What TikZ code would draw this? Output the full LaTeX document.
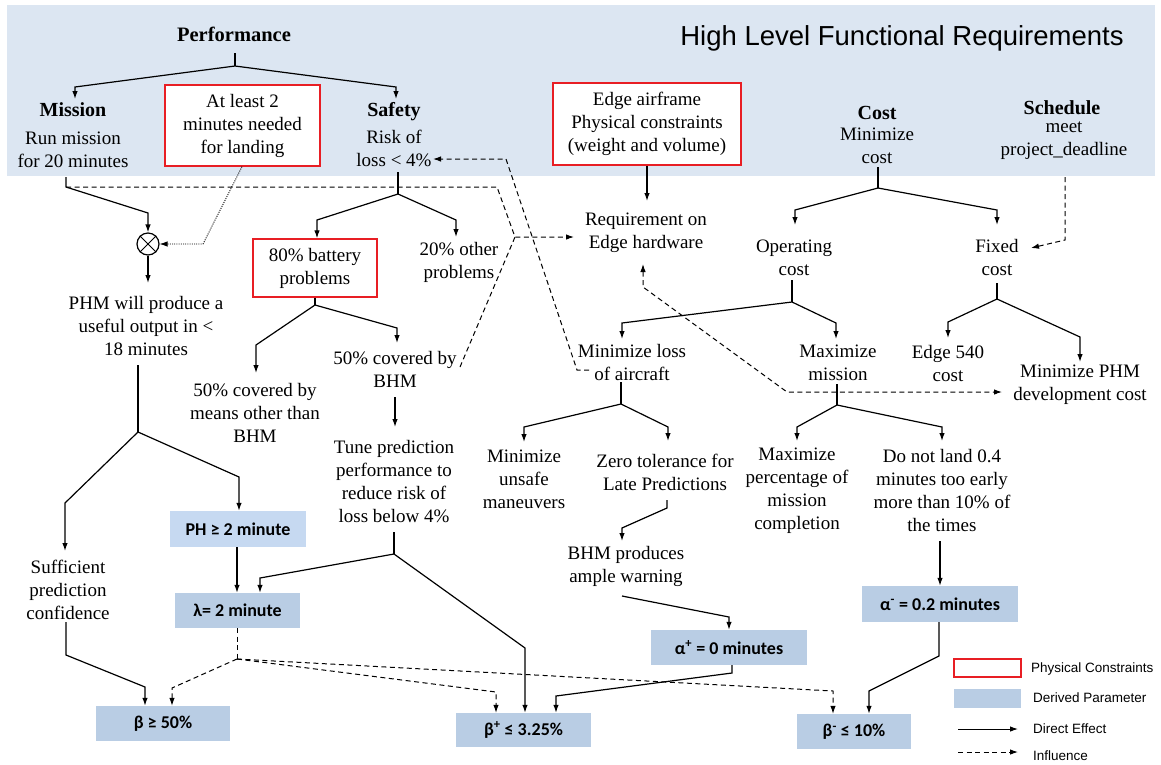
\documentclass[tikz,border=0pt]{standalone}
\usepackage{fontspec}
\setmainfont{Liberation Serif}
\newfontfamily\serf{Liberation Serif}
\newfontfamily\sansf{Liberation Sans}
\newfontfamily\calib{Carlito}
\usetikzlibrary{arrows.meta}
\definecolor{band}{RGB}{220,230,242}
\definecolor{dp}{RGB}{185,205,228}
\definecolor{dplight}{RGB}{198,217,241}
\definecolor{pcred}{RGB}{232,30,36}
\tikzset{
  tx/.style={align=center, inner sep=0pt, font=\serf\fontsize{19}{23}\selectfont},
  hd/.style={inner sep=0pt, font=\serf\bfseries\fontsize{20}{23}\selectfont},
  pcbox/.style={draw=pcred, line width=1.3pt, fill=white, inner sep=0pt, align=center, font=\serf\fontsize{19}{23}\selectfont},
  dpbox/.style={fill=dp, inner sep=0pt, font=\calib\bfseries\fontsize{18}{21}\selectfont},
  legtx/.style={inner sep=0pt, anchor=west, font=\sansf\fontsize{13.5}{16}\selectfont},
  conn/.style={line width=1.2pt},
  arr/.style={line width=1.2pt, -{Latex[length=8pt,width=5.5pt]}},
  inflline/.style={line width=1pt, dash pattern=on 5pt off 3.5pt},
  infl/.style={inflline, -{Latex[length=8pt,width=5.5pt]}},
  inflboth/.style={inflline, {Latex[length=8pt,width=5.5pt]}-{Latex[length=8pt,width=5.5pt]}},
  dotln/.style={line width=0.9pt, dash pattern=on 1pt off 1.2pt, -{Latex[length=8pt,width=5.5pt]}}
}
\begin{document}
\begin{tikzpicture}[x=1pt,y=-1pt]
\useasboundingbox (0,0) rectangle (1161,764);
\fill[white] (0,0) rectangle (1161,764);
\fill[band] (7,5) rectangle (1155,176);

% ---------- top band texts
\node[inner sep=0pt, font=\sansf\fontsize{27.5}{31}\selectfont] (title) at (902,38) {High Level Functional Requirements};
\node[inner sep=0pt, font=\serf\bfseries\fontsize{20.5}{23}\selectfont] (perf) at (234,34) {Performance};
\node[hd] (mish) at (73,110) {Mission};
\node[tx] (mis) at (73,149.5) {Run mission\\for 20 minutes};
\node[pcbox, minimum width=155pt, minimum height=81pt] (atl) at (242.5,125.5) {At least 2\\minutes needed\\for landing};
\node[hd] (safh) at (394,112) {Safety};
\node[tx] (saf) at (394,148.5) {Risk of\\loss < 4\%};
\node[pcbox, minimum width=188pt, minimum height=82pt] (edge) at (647,124) {Edge airframe\\Physical constraints\\(weight and volume)};
\node[hd] (costh) at (877,113) {Cost};
\node[tx] (cost) at (877,146) {Minimize\\cost};
\node[hd] (schedh) at (1062,108) {Schedule};
\node[tx] (sched) at (1064,141) {meet\\project\_deadline};

% ---------- middle texts
\node[tx] (req) at (646,233) {Requirement on\\Edge hardware};
\node[tx] (opc) at (794,257.5) {Operating\\cost};
\node[tx] (fix) at (997,257) {Fixed\\cost};
\node[pcbox, minimum width=124pt, minimum height=58pt] (bat) at (315,268) {80\% battery\\problems};
\node[tx] (oth) at (459,262.5) {20\% other\\problems};
\node[circle, draw, line width=1.2pt, minimum size=22pt, inner sep=0pt] (mult) at (148,244) {};
\node[tx] (phm) at (146,326) {PHM will produce a\\useful output in <\\18 minutes};
\node[tx] (cov1) at (255,413) {50\% covered by\\means other than\\BHM};
\node[tx] (cov2) at (395,369) {50\% covered by\\BHM};
\node[tx] (tune) at (394,482) {Tune prediction\\performance to\\reduce risk of\\loss below 4\%};
\node[tx] (mloss) at (632,362) {Minimize loss\\of aircraft};
\node[tx] (maxm) at (838,362.5) {Maximize\\mission};
\node[tx] (e540) at (948,363.5) {Edge 540\\cost};
\node[tx] (mphm) at (1080,384.5) {Minimize PHM\\development cost};
\node[tx] (unsafe) at (524,479.5) {Minimize\\unsafe\\maneuvers};
\node[tx] (zero) at (665,472.5) {Zero tolerance for\\Late Predictions};
\node[tx] (pct) at (797,491) {Maximize\\percentage of\\mission\\completion};
\node[tx] (land) at (942,490) {Do not land 0.4\\minutes too early\\more than 10\% of\\the times};
\node[tx] (bhm) at (626,566) {BHM produces\\ample warning};
\node[tx] (suf) at (68,589.5) {Sufficient\\prediction\\confidence};

% ---------- derived parameter boxes
\node[dpbox, fill=dplight, minimum width=136pt, minimum height=36pt] (ph) at (238,529) {PH ≥ 2 minute};
\node[dpbox, minimum width=125pt, minimum height=35pt] (lam) at (237.5,610.5) {λ= 2 minute};
\node[dpbox, minimum width=134pt, minimum height=35pt] (bge) at (163,723.5) {β ≥ 50\%};
\node[dpbox, minimum width=135pt, minimum height=34pt] (bplus) at (523.5,730) {β\textsuperscript{+} ≤ 3.25\%};
\node[dpbox, minimum width=156pt, minimum height=35pt] (aplus) at (729,647.5) {α\textsuperscript{+} = 0 minutes};
\node[dpbox, minimum width=156pt, minimum height=36pt] (aminus) at (940,604) {α\textsuperscript{-} = 0.2 minutes};
\node[dpbox, minimum width=114pt, minimum height=35pt] (bminus) at (854,731.5) {β\textsuperscript{-} ≤ 10\%};

% ---------- junction coordinates
\coordinate (perf-st) at (235,53);
\coordinate (perf-j) at (235,66);
\coordinate (mish-in) at (75,99);
\coordinate (safh-in) at (396,99);
\coordinate (mis-st) at (66,177);
\coordinate (mis-j) at (66,187);
\coordinate (reqj) at (515,237);
\coordinate (req-in) at (574,237);
\coordinate (req-top) at (647,201);
\coordinate (req-bot) at (643,264);
\coordinate (mphm-side) at (1002,392);
\coordinate (saf-side) at (433,159);
\coordinate (mloss-side) at (589,370);
\coordinate (cov2-side) at (460,367);
\coordinate (cost-st) at (878,167);
\coordinate (cost-j) at (878,188);
\coordinate (opc-in) at (795,225);
\coordinate (fix-in) at (997,225);
\coordinate (sched-st) at (1065,177);
\coordinate (fix-side) at (1031,248);
\coordinate (saf-st) at (398,172);
\coordinate (saf-j) at (398,194);
\coordinate (oth-in) at (456,237);
\coordinate (bat-j) at (315,305);
\coordinate (cov1-in) at (256,373);
\coordinate (cov2-in) at (397,343);
\coordinate (cov2-st) at (395,397);
\coordinate (tune-in) at (395,427);
\coordinate (tune-st) at (394,532);
\coordinate (tune-j) at (394,554);
\coordinate (phm-in) at (148,283);
\coordinate (phm-st) at (138,365);
\coordinate (phm-j) at (138,432);
\coordinate (suf-in) at (65,551);
\coordinate (suf-st) at (66,622);
\coordinate (opc-st) at (792,280);
\coordinate (opc-j) at (792,302);
\coordinate (mloss-in) at (622,339);
\coordinate (maxm-in) at (836,339);
\coordinate (fix-st) at (997,283);
\coordinate (fix-j) at (997,299);
\coordinate (e540-in) at (948,338);
\coordinate (mphm-in) at (1080,362);
\coordinate (mloss-st) at (621,382);
\coordinate (mloss-j) at (621,404);
\coordinate (unsafe-in) at (524,442);
\coordinate (zero-in) at (668,441);
\coordinate (maxm-st) at (837,384);
\coordinate (maxm-j) at (837,405);
\coordinate (pct-in) at (797,441);
\coordinate (land-in) at (942,441);
\coordinate (zero-st) at (667,500);
\coordinate (bhm-in) at (622,541);
\coordinate (bhm-st) at (622,596);
\coordinate (land-st) at (940,541);
\coordinate (lamj) at (237,659);

% ---------- direct effects
\draw[conn] (perf-st) -- (perf-j);
\draw[arr] (perf-j) -- (75,87) -- (mish-in);
\draw[arr] (perf-j) -- (396,87) -- (safh-in);
\draw[arr] (mis-st) -- (mis-j) -- (148,213) -- (mult.north);
\draw[line width=1pt] (mult.north west) -- (mult.south east) (mult.north east) -- (mult.south west);
\draw[arr] (mult.south) -- (phm-in);
\draw[arr] (edge.south) -- (req-top);
\draw[conn] (cost-st) -- (cost-j);
\draw[arr] (cost-j) -- (795,210) -- (opc-in);
\draw[arr] (cost-j) -- (997,210) -- (fix-in);
\draw[conn] (saf-st) -- (saf-j);
\draw[arr] (saf-j) -- (317,220) -- (bat.north -| 317,0);
\draw[arr] (saf-j) -- (456,220) -- (oth-in);
\draw[conn] (bat.south -| 315,0) -- (bat-j);
\draw[arr] (bat-j) -- (256,345) -- (cov1-in);
\draw[arr] (bat-j) -- (397,328) -- (cov2-in);
\draw[arr] (cov2-st) -- (tune-in);
\draw[conn] (tune-st) -- (tune-j);
\draw[arr] (tune-j) -- (260,578) -- (lam.north -| 260,0);
\draw[arr] (tune-j) -- (525,648) -- (bplus.north -| 525,0);
\draw[conn] (phm-st) -- (phm-j);
\draw[arr] (phm-j) -- (65,503) -- (suf-in);
\draw[arr] (phm-j) -- (239,477) -- (ph.north -| 239,0);
\draw[arr] (ph.south -| 237,0) -- (lam.north -| 237,0);
\draw[arr] (suf-st) -- (66,655) -- (145,687) -- (bge.north -| 145,0);
\draw[conn] (opc-st) -- (opc-j);
\draw[arr] (opc-j) -- (622,323) -- (mloss-in);
\draw[arr] (opc-j) -- (836,323) -- (maxm-in);
\draw[conn] (fix-st) -- (fix-j);
\draw[arr] (fix-j) -- (948,322) -- (e540-in);
\draw[arr] (fix-j) -- (1080,337) -- (mphm-in);
\draw[conn] (mloss-st) -- (mloss-j);
\draw[arr] (mloss-j) -- (524,427) -- (unsafe-in);
\draw[arr] (mloss-j) -- (668,427) -- (zero-in);
\draw[conn] (maxm-st) -- (maxm-j);
\draw[arr] (maxm-j) -- (797,427) -- (pct-in);
\draw[arr] (maxm-j) -- (942,427) -- (land-in);
\draw[arr] (zero-st) -- (667,508) -- (622,528) -- (bhm-in);
\draw[arr] (bhm-st) -- (729,617) -- (aplus.north);
\draw[arr] (aplus.south -| 732,0) -- (732,673) -- (556,696) -- (bplus.north -| 556,0);
\draw[arr] (land-st) -- (aminus.north -| 940,0);
\draw[arr] (aminus.south -| 939,0) -- (939,656) -- (869,691) -- (bminus.north -| 869,0);

% ---------- influences
\draw[dotln] (atl.south -| 242,0) -- (203,244) -- (mult.east);
\draw[infl] (mis-j) -- (497,187) -- (reqj) -- (req-in);
\draw[inflline] (cov2-side) -- (reqj);
\draw[infl] (mloss-side) -- (577,370) -- (506,159) -- (saf-side);
\draw[inflboth] (req-bot) -- (643,287) -- (787,392) -- (mphm-side);
\draw[infl] (sched-st) -- (1065,240) -- (fix-side);
\draw[inflline] (lam.south -| 237,0) -- (lamj);
\draw[infl] (lamj) -- (172,688) -- (bge.north -| 172,0);
\draw[infl] (lamj) -- (496,692) -- (bplus.north -| 496,0);
\draw[infl] (lamj) -- (833,691) -- (bminus.north -| 833,0);

% ---------- legend
\node[draw=pcred, line width=1.2pt, fill=white, minimum width=67pt, minimum height=18pt, inner sep=0pt] (lg1) at (987.5,668) {};
\node[legtx] (lg1t) at (1031,669) {Physical Constraints};
\node[fill=dp, minimum width=67pt, minimum height=19pt, inner sep=0pt] (lg2) at (987.5,698.5) {};
\node[legtx] (lg2t) at (1033,698) {Derived Parameter};
\coordinate (lg3a) at (958,729);
\coordinate (lg3b) at (1018,729);
\draw[line width=1pt, -{Latex[length=8pt,width=5.5pt]}] (lg3a) -- (lg3b);
\node[legtx] (lg3t) at (1033,729) {Direct Effect};
\coordinate (lg4a) at (958,752);
\coordinate (lg4b) at (1018,752);
\draw[infl] (lg4a) -- (lg4b);
\node[legtx] (lg4t) at (1033,756) {Influence};
\end{tikzpicture}
\end{document}
